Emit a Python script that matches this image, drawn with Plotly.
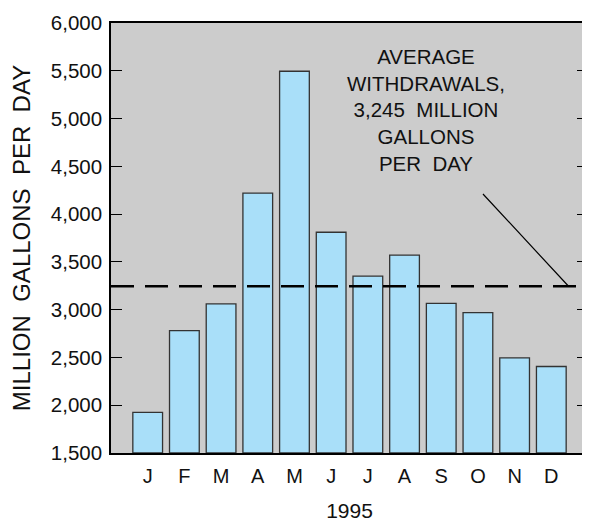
import plotly.graph_objects as go

months = ["J", "F", "M", "A", "M", "J", "J", "A", "S", "O", "N", "D"]
withdrawals = [1925, 2780, 3060, 4220, 5495, 3810, 3350, 3570, 3065, 2970, 2495, 2405]
average = 3245
year_label = "1995"
y_ticks = [1500, 2000, 2500, 3000, 3500, 4000, 4500, 5000, 5500, 6000]
NB = "\u00a0"
note_text = ("AVERAGE<br>WITHDRAWALS,<br>3,245" + NB + NB + "MILLION<br>GALLONS<br>PER" + NB + NB + "DAY")
y_title = ("MILLION" + NB + NB + "GALLONS" + NB + NB + "PER" + NB + NB + "DAY")

x_idx = list(range(len(months)))
FONT = "Liberation Sans, Arial, sans-serif"

fig = go.Figure()
fig.add_trace(go.Bar(
    x=x_idx, y=[v - 1500 for v in withdrawals], base=1500,
    marker=dict(color="#a9dff9", line=dict(color="#333333", width=1.3)),
    width=0.81, hoverinfo="skip",
))

fig.add_shape(type="line", xref="paper", yref="y", x0=0, x1=1, y0=average, y1=average,
              line=dict(color="black", width=2.5, dash="23px,11px"), layer="above")

fig.add_annotation(x=11.47, y=average, ax=9.10, ay=4226, xref="x", yref="y",
                   axref="x", ayref="y", text="", showarrow=True, arrowhead=0,
                   arrowwidth=1.2, arrowcolor="black", standoff=0, startstandoff=0)
fig.add_annotation(x=7.575, y=5087, xref="x", yref="y", text=note_text, showarrow=False,
                   font=dict(family=FONT, size=20.5, color="#111111"), align="center")

fig.update_layout(
    width=582, height=515,
    margin=dict(l=103, r=0, t=15, b=70),
    paper_bgcolor="white", plot_bgcolor="#cccccc",
    showlegend=False,
    font=dict(family=FONT, size=20, color="#111111"),
    xaxis=dict(range=[-1, 12], tickmode="array", tickvals=x_idx, ticktext=months,
               showgrid=False, zeroline=False, showline=True, linecolor="black", linewidth=1.5,
               mirror=True, ticks="", tickfont=dict(size=20), ticklabelstandoff=4,
               title=dict(text=year_label, font=dict(size=21), standoff=18)),
    yaxis=dict(range=[1500, 6000], tickmode="array", tickvals=y_ticks,
               ticktext=[f"{v:,}" for v in y_ticks],
               showgrid=False, zeroline=False, showline=True, linecolor="black", linewidth=1.5,
               mirror="ticks", ticks="inside", ticklen=11, tickwidth=1.3, tickcolor="black",
               tickfont=dict(size=20.5), ticklabelstandoff=3,
               title=dict(text=y_title, font=dict(size=24), standoff=19)),
)

fig.write_html("out.html")
